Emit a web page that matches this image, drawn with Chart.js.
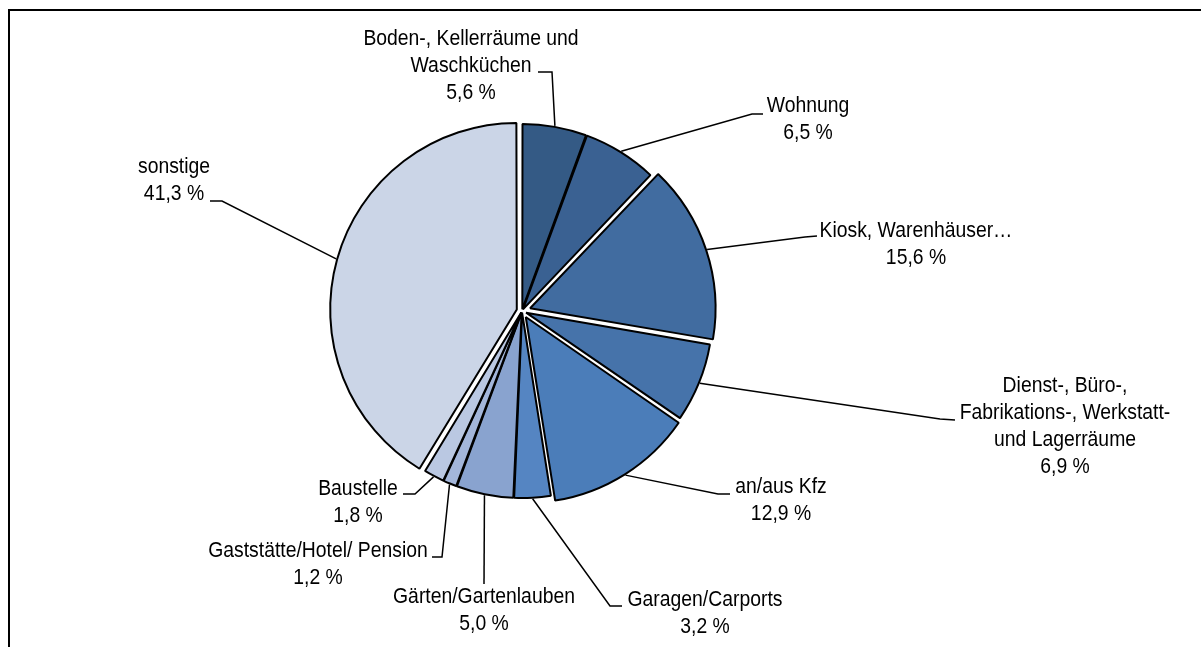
<!DOCTYPE html>
<html>
<head>
<meta charset="utf-8">
<script src="https://cdn.jsdelivr.net/npm/chart.js@4"></script>
<style>
  html, body { margin: 0; padding: 0; background: #fff; }
  #wrap { position: relative; width: 1201px; height: 647px; overflow: hidden; }
  #frame { position: absolute; left: 8px; top: 9px; width: 1300px; height: 800px;
           border-left: 2px solid #000; border-top: 2px solid #000; }
  #pieChart { position: absolute; left: 0; top: 0; }
</style>
</head>
<body>
<div id="wrap">
  <div id="frame"></div>
  <canvas id="pieChart" width="1201" height="647"></canvas>
</div>
<script>
// Anteile der Brandorte in Prozent (im Uhrzeigersinn ab 12 Uhr)
const categories = [
  ['Boden-, Kellerräume und', 'Waschküchen'],
  ['Wohnung'],
  ['Kiosk, Warenhäuser…'],
  ['Dienst-, Büro-,', 'Fabrikations-, Werkstatt-', 'und Lagerräume'],
  ['an/aus Kfz'],
  ['Garagen/Carports'],
  ['Gärten/Gartenlauben'],
  ['Gaststätte/Hotel/ Pension'],
  ['Baustelle'],
  ['sonstige']
];
const shares = [5.6, 6.5, 15.6, 6.9, 12.9, 3.2, 5.0, 1.2, 1.8, 41.3];

const colors = ['#345a85', '#3a6192', '#416ca0', '#4673aa', '#4b7db9',
                '#5585c2', '#89a3cf', '#a3b6da', '#bac8e2', '#cbd5e7'];
// gewünschte Verschiebung der Segmente nach außen, in Pixeln
const explode = [3, 3, 10, 7, 9, 3, 3, 3, 3, 8];

// Lage der Beschriftungen: Textmitte x, erste Zeile y, Knickpunkte der Führungslinie
const labelLayout = [
  { cx: 471, y: 39, path: [[552, 72], [538, 72]] },
  { cx: 808, y: 106, path: [[752, 114], [763, 114]] },
  { cx: 916, y: 231, path: [[805, 237], [817, 236]] },
  { cx: 1065, y: 386, path: [[940, 419], [955, 420]] },
  { cx: 781, y: 487, path: [[718, 494], [730, 494]] },
  { cx: 705, y: 600, path: [[610, 606], [622, 606]] },
  { cx: 484, y: 597, path: [[484, 584]] },
  { cx: 318, y: 551, path: [[442, 557], [432, 557]] },
  { cx: 358, y: 489, path: [[415, 494], [403, 494]] },
  { cx: 174, y: 167, path: [[222, 201], [210, 201]] }
];
const LINE_H = 27;
const FONT = '22px "Liberation Sans", Arial, sans-serif';
const NARROW = 0.88;

const pctText = v => v.toFixed(1).replace('.', ',') + ' %';

// Chart.js v4 verschiebt ein Segment um offset/4 * (1 + fix); umrechnen
const arcOffsets = shares.map((v, i) => {
  const ang = v / 100 * 2 * Math.PI;
  const fix = 1 - Math.sin(Math.min(Math.PI, ang));
  return explode[i] * 4 / (1 + fix);
});

const leaderLabels = {
  id: 'leaderLabels',
  afterDraw(chart) {
    const ctx = chart.ctx;
    const meta = chart.getDatasetMeta(0);
    ctx.save();
    ctx.strokeStyle = '#000';
    ctx.lineWidth = 1.5;
    meta.data.forEach((arc, i) => {
      const p = arc.getProps(['x', 'y', 'startAngle', 'endAngle', 'outerRadius'], true);
      const mid = (p.startAngle + p.endAngle) / 2;
      const r = p.outerRadius + explode[i] + 1;
      const lay = labelLayout[i];
      ctx.beginPath();
      ctx.moveTo(p.x + Math.cos(mid) * r, p.y + Math.sin(mid) * r);
      lay.path.forEach(pt => ctx.lineTo(pt[0], pt[1]));
      ctx.stroke();

      const lines = categories[i].concat([pctText(shares[i])]);
      ctx.fillStyle = '#000';
      ctx.font = FONT;
      ctx.textAlign = 'center';
      ctx.textBaseline = 'middle';
      lines.forEach((t, k) => {
        ctx.save();
        ctx.translate(lay.cx, lay.y + k * LINE_H);
        ctx.scale(NARROW, 1);
        ctx.fillText(t, 0, 0);
        ctx.restore();
      });
    });
    ctx.restore();
  }
};

const ctx = document.getElementById('pieChart').getContext('2d');
const chartPie = new Chart(ctx, {
  type: 'pie',
  data: {
    labels: categories.map(c => c.join(' ')),
    datasets: [{
      data: shares,
      backgroundColor: colors,
      borderColor: '#000',
      borderWidth: 2,
      offset: arcOffsets
    }]
  },
  options: {
    responsive: false,
    animation: false,
    radius: 184,
    layout: { padding: { left: 0, right: 157, top: 0, bottom: 25 } },
    plugins: {
      legend: { display: false },
      tooltip: { enabled: false }
    }
  },
  plugins: [leaderLabels]
});
</script>
</body>
</html>
